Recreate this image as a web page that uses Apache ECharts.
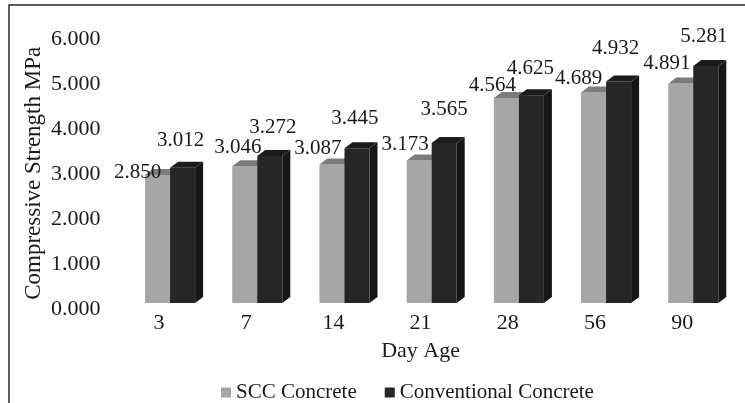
<!DOCTYPE html>
<html>
<head>
<meta charset="utf-8">
<script src="https://cdn.jsdelivr.net/npm/echarts@6/dist/echarts.min.js"></script>
<style>
  html, body { margin: 0; padding: 0; background: #fff; }
  #chart { width: 745px; height: 403px; }
</style>
</head>
<body>
<div id="chart"></div>
<script>
// Compressive strength by curing age (days)
const categories = ['3', '7', '14', '21', '28', '56', '90'];
const sccValues = [2.850, 3.046, 3.087, 3.173, 4.564, 4.689, 4.891];
const conventionalValues = [3.012, 3.272, 3.445, 3.565, 4.625, 4.932, 5.281];
const seriesNames = ['SCC Concrete', 'Conventional Concrete'];
const yTickStep = 1;
const yMax = 6;

// value-label nudges (px) relative to the top-centre of each column face
const labelNudges = [
  [[-20, -3], [-7, -19], [-14, -16], [-14, -16], [-14, -13], [-15, -14], [-14, -20]],
  [[-2, -27], [3, -29], [-2, -30], [0, -33], [-1, -27], [-3, -33], [-2, -29]]
];

const FONT = '"Liberation Serif", "Times New Roman", serif';
const TEXT_COLOR = '#1a1a1a';

// face colours for the pseudo-3D columns: [front, top, side]
const faces = [
  ['#a6a6a6', '#7c7c7c', '#8a8a8a'],
  ['#262626', '#1b1b1b', '#161616']
];
const DEPTH_X = 8;
const DEPTH_Y = 6;

function makeRenderer(seriesIdx) {
  return function (params, api) {
    const idx = api.value(0);
    const val = api.value(1);
    const base = api.coord([idx, 0]);
    const top = api.coord([idx, val]);
    const band = api.size([1, 0])[0];
    const w = band * 0.287;
    const x0 = base[0] - band * 0.16 + seriesIdx * w;
    const x1 = x0 + w;
    const ty = top[1];
    const by = base[1];
    const c = faces[seriesIdx];
    const nudge = labelNudges[seriesIdx][params.dataIndex];
    return {
      type: 'group',
      children: [
        {
          type: 'polygon',
          shape: { points: [[x1, ty], [x1 + DEPTH_X, ty - DEPTH_Y], [x1 + DEPTH_X, by - DEPTH_Y], [x1, by]] },
          style: { fill: c[2] }
        },
        {
          type: 'rect',
          shape: { x: x0, y: ty, width: w, height: by - ty },
          style: { fill: c[0] }
        },
        {
          type: 'polygon',
          shape: { points: [[x0, ty], [x0 + DEPTH_X, ty - DEPTH_Y], [x1 + DEPTH_X, ty - DEPTH_Y], [x1, ty]] },
          style: { fill: c[1] }
        },
        {
          type: 'text',
          style: {
            text: val.toFixed(3),
            x: (x0 + x1) / 2 + nudge[0],
            y: ty + nudge[1],
            align: 'center',
            verticalAlign: 'middle',
            font: '21px ' + FONT,
            fill: TEXT_COLOR
          }
        }
      ]
    };
  };
}

const chart = echarts.init(document.getElementById('chart'), null, { renderer: 'canvas' });

chart.setOption({
  backgroundColor: '#ffffff',
  animation: false,
  textStyle: { fontFamily: FONT, color: TEXT_COLOR },
  graphic: [
    {
      type: 'polyline',
      shape: { points: [[9, 420], [9, 5], [760, 5]] },
      style: { stroke: '#2a2a2a', lineWidth: 1.5, fill: null },
      silent: true
    }
  ],
  grid: { left: 115.4, top: 33.6, width: 610.4, height: 269.4, containLabel: false },
  legend: {
    data: seriesNames,
    left: 216,
    top: 377,
    icon: 'rect',
    itemWidth: 10,
    itemHeight: 10,
    itemGap: 28,
    textStyle: { fontFamily: FONT, fontSize: 21, color: TEXT_COLOR }
  },
  xAxis: {
    type: 'category',
    data: categories,
    name: 'Day Age',
    nameLocation: 'middle',
    nameGap: 37,
    nameMoveOverlap: false,
    nameTextStyle: { fontFamily: FONT, fontSize: 22, color: TEXT_COLOR },
    axisLine: { show: false },
    axisTick: { show: false },
    axisLabel: { fontFamily: FONT, fontSize: 22, color: TEXT_COLOR, margin: 9 }
  },
  yAxis: {
    type: 'value',
    min: 0,
    max: yMax,
    interval: yTickStep,
    name: 'Compressive Strength MPa',
    nameLocation: 'middle',
    nameGap: 70,
    nameMoveOverlap: false,
    nameTextStyle: { fontFamily: FONT, fontSize: 23, color: TEXT_COLOR, padding: [0, 10, 0, 0] },
    axisLine: { show: false },
    axisTick: { show: false },
    splitLine: { show: false },
    axisLabel: {
      fontFamily: FONT, fontSize: 22, color: TEXT_COLOR, margin: 15,
      verticalAlign: 'top',
      lineHeight: 12,
      formatter: v => v.toFixed(3)
    }
  },
  series: [sccValues, conventionalValues].map((vals, s) => ({
    name: seriesNames[s],
    type: 'custom',
    renderItem: makeRenderer(s),
    itemStyle: { color: faces[s][0] },
    encode: { x: 0, y: 1 },
    clip: false,
    data: vals.map((v, i) => [i, v])
  }))
});
</script>
</body>
</html>
